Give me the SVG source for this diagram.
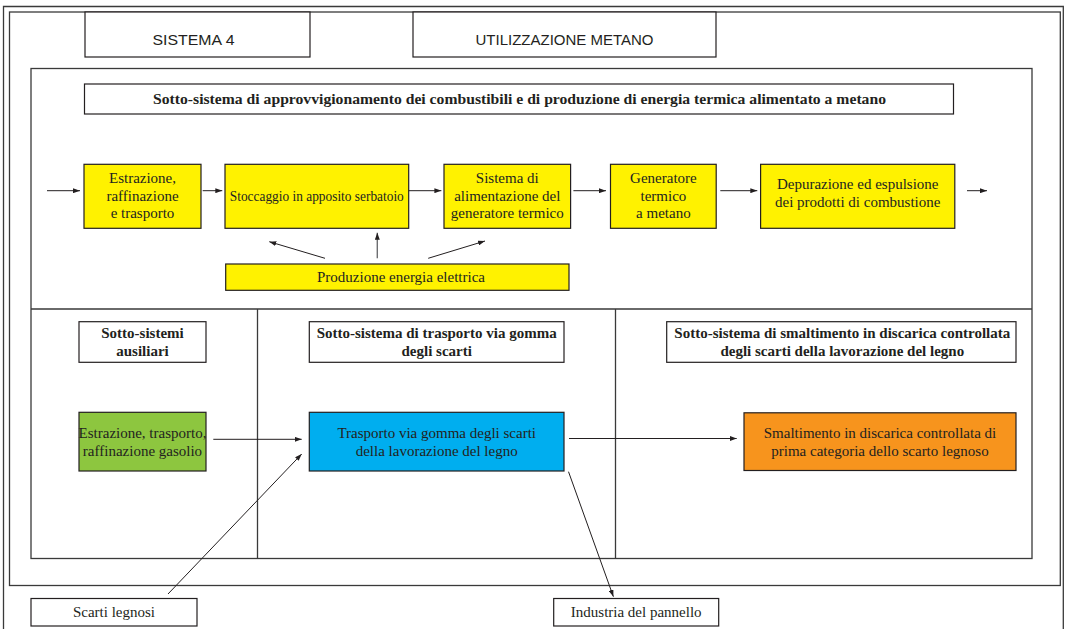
<svg xmlns="http://www.w3.org/2000/svg" width="1065" height="629" viewBox="0 0 1065 629">
<style>
.frame{fill:none;stroke:#3a3a3a;stroke-width:1.3}
.box{stroke:#231f20;stroke-width:1.2}
.w{fill:#ffffff}
.y{fill:#fff200}
.g{fill:#8dc63f}
.b{fill:#00aeef}
.o{fill:#f7941d}
.t{font-family:"Liberation Serif","Times New Roman",serif;font-size:15px;fill:#231f20;text-anchor:middle}
.tb{font-family:"Liberation Serif","Times New Roman",serif;font-size:15px;font-weight:bold;fill:#231f20;text-anchor:middle}
.ts{font-family:"Liberation Sans",Arial,sans-serif;font-size:15px;fill:#231f20;text-anchor:middle}
.c{fill:none;stroke:#231f20;stroke-width:1;marker-end:url(#ah)}
</style>
<defs>
<marker id="ah" markerUnits="userSpaceOnUse" markerWidth="7" markerHeight="5" refX="7" refY="2.5" orient="auto">
<path d="M0,0 L7,2.5 L0,5 z" fill="#231f20"/>
</marker>
</defs>
<rect width="1065" height="629" fill="#ffffff"/>
<g id="frames">
<path class="frame" d="M3.5,629 V6.5 H1063.3 V629"/>
<rect class="frame" x="9.5" y="12" width="1050.8" height="573.5"/>
<rect class="frame" x="31" y="68.5" width="1001" height="490"/>
<path class="frame" d="M31,309 H1032 M257.5,309 V558.5 M615.5,309 V558.5"/>
</g>
<g id="sistema4">
<rect class="box w" x="85" y="12" width="225" height="45"/>
<text class="ts" x="193.5" y="45" textLength="82" lengthAdjust="spacingAndGlyphs">SISTEMA 4</text>
</g>
<g id="utilizzazione">
<rect class="box w" x="413" y="12" width="303" height="45"/>
<text class="ts" x="564.5" y="45" textLength="178" lengthAdjust="spacingAndGlyphs">UTILIZZAZIONE METANO</text>
</g>
<g id="titolo-approvvigionamento">
<rect class="box w" x="84.5" y="84" width="869" height="30"/>
<text class="tb" x="519.5" y="103.5" font-size="14" textLength="733" lengthAdjust="spacingAndGlyphs" style="font-size:14px">Sotto-sistema di approvvigionamento dei combustibili e di produzione di energia termica alimentato a metano</text>
</g>
<g id="estrazione">
<rect class="box y" x="84" y="164.3" width="117" height="64"/>
<text class="t" x="142.5" y="183.3">Estrazione,</text>
<text class="t" x="142.5" y="200.7">raffinazione</text>
<text class="t" x="142.5" y="218">e trasporto</text>
</g>
<g id="stoccaggio">
<rect class="box y" x="225" y="164.3" width="183.7" height="64"/>
<text class="t" x="316.8" y="201" textLength="174" lengthAdjust="spacingAndGlyphs">Stoccaggio in apposito serbatoio</text>
</g>
<g id="alimentazione">
<rect class="box y" x="444" y="164.3" width="126.6" height="64"/>
<text class="t" x="507.3" y="183.3">Sistema di</text>
<text class="t" x="507.3" y="200.7">alimentazione del</text>
<text class="t" x="507.3" y="218">generatore termico</text>
</g>
<g id="generatore">
<rect class="box y" x="610.5" y="164.3" width="105.7" height="64"/>
<text class="t" x="663.4" y="183.3">Generatore</text>
<text class="t" x="663.4" y="200.7">termico</text>
<text class="t" x="663.4" y="218">a metano</text>
</g>
<g id="depurazione">
<rect class="box y" x="760.6" y="164.3" width="194.2" height="64"/>
<text class="t" x="857.7" y="189">Depurazione ed espulsione</text>
<text class="t" x="857.7" y="206.7">dei prodotti di combustione</text>
</g>
<g id="produzione">
<rect class="box y" x="225.7" y="264" width="343.3" height="26.3"/>
<text class="t" x="401" y="282">Produzione energia elettrica</text>
</g>
<g id="titolo-ausiliari">
<rect class="box w" x="79" y="321.7" width="127" height="40.6"/>
<text class="tb" x="142.5" y="338.2">Sotto-sistemi</text>
<text class="tb" x="142.5" y="355.7">ausiliari</text>
</g>
<g id="titolo-trasporto">
<rect class="box w" x="309.3" y="321.7" width="254.7" height="40.6"/>
<text class="tb" x="436.7" y="338.2">Sotto-sistema di trasporto via gomma</text>
<text class="tb" x="436.7" y="355.7">degli scarti</text>
</g>
<g id="titolo-smaltimento">
<rect class="box w" x="666.7" y="321.7" width="349.3" height="40.6"/>
<text class="tb" x="842.3" y="338.2">Sotto-sistema di smaltimento in discarica controllata</text>
<text class="tb" x="842.3" y="355.7">degli scarti della lavorazione del legno</text>
</g>
<g id="gasolio">
<rect class="box g" x="79" y="412.3" width="127" height="58.7"/>
<text class="t" x="142.5" y="438.3">Estrazione, trasporto,</text>
<text class="t" x="142.5" y="455.8">raffinazione gasolio</text>
</g>
<g id="trasporto">
<rect class="box b" x="309.3" y="412.3" width="254.7" height="58.7"/>
<text class="t" x="436.7" y="438.3">Trasporto via gomma degli scarti</text>
<text class="t" x="436.7" y="455.8">della lavorazione del legno</text>
</g>
<g id="smaltimento">
<rect class="box o" x="744" y="412.8" width="272" height="57.7"/>
<text class="t" x="880" y="438.3">Smaltimento in discarica controllata di</text>
<text class="t" x="880" y="455.8">prima categoria dello scarto legnoso</text>
</g>
<g id="scarti">
<rect class="box w" x="31" y="598.5" width="166" height="27.5"/>
<text class="t" x="114" y="617">Scarti legnosi</text>
</g>
<g id="pannello">
<rect class="box w" x="553.7" y="598.5" width="165" height="27.5"/>
<text class="t" x="636.2" y="617">Industria del pannello</text>
</g>
<g id="connectors">
<line class="c" x1="47" y1="190.7" x2="80" y2="190.7"/>
<line class="c" x1="202.7" y1="190.7" x2="222.3" y2="190.7"/>
<line class="c" x1="408.7" y1="190.7" x2="441.4" y2="190.7"/>
<line class="c" x1="573.4" y1="190.7" x2="606" y2="190.7"/>
<line class="c" x1="720.3" y1="190.7" x2="757.3" y2="190.7"/>
<line class="c" x1="967" y1="190.7" x2="987" y2="190.7"/>
<line class="c" x1="325" y1="258.3" x2="269.3" y2="241.7"/>
<line class="c" x1="377.3" y1="258.3" x2="377.3" y2="232.7" style="stroke:#6d6e71;stroke-width:1.4"/>
<line class="c" x1="428.2" y1="258.3" x2="485" y2="241"/>
<line class="c" x1="213.3" y1="439.3" x2="301.7" y2="439.3"/>
<line class="c" x1="168" y1="594" x2="301.7" y2="454"/>
<line class="c" x1="569" y1="438.5" x2="736.7" y2="438.5"/>
<line class="c" x1="568.5" y1="471.7" x2="613.4" y2="596.7"/>
</g>
</svg>
